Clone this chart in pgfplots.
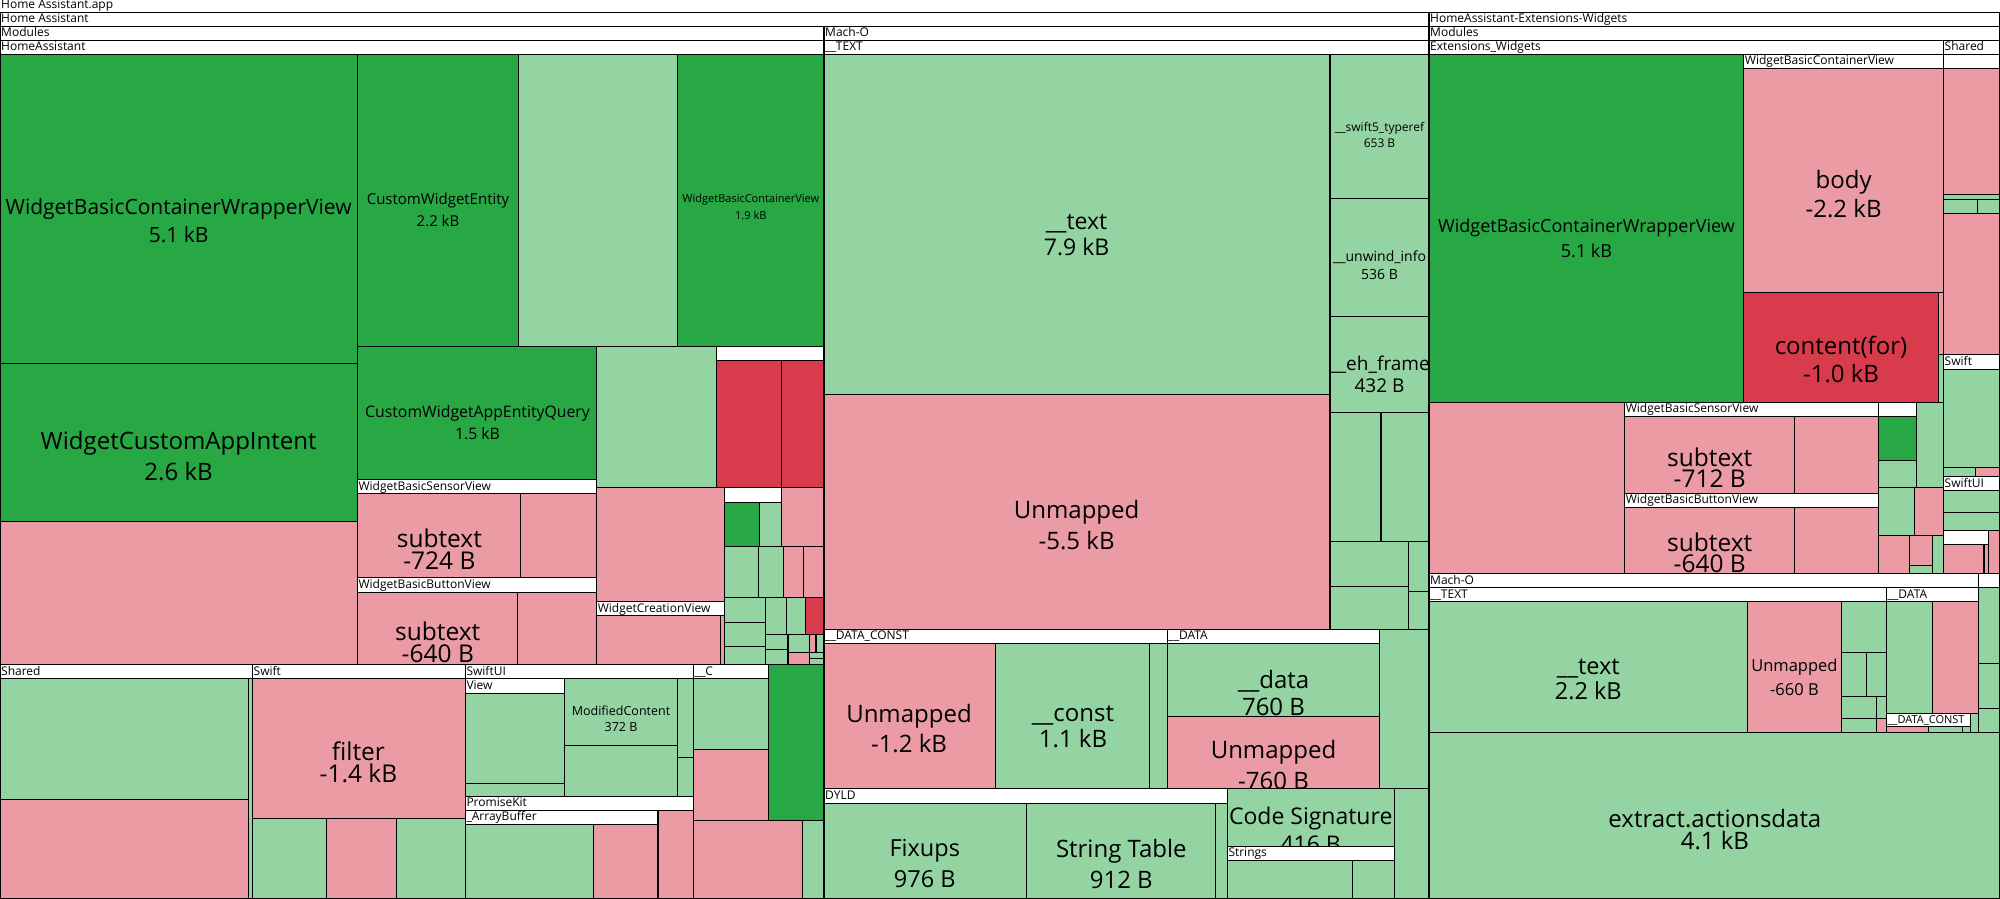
\documentclass[border=0pt]{standalone}
\usepackage{fontspec}
\setmainfont{Open Sans}
\usepackage{pgfplots}
\pgfplotsset{compat=1.18}

\definecolor{dg}{RGB}{40,167,69}
\definecolor{lg}{RGB}{148,211,162}
\definecolor{pk}{RGB}{234,155,164}
\definecolor{rd}{RGB}{216,59,75}

% one tile: colour, x0, y0, x1, y1 (pixels, y down)
\newcommand{\rect}[5]{\addplot[fill=#1,draw=black,line width=1.2pt] coordinates {(#2,#3) (#4,#3) (#4,#5) (#2,#5)} --cycle;}
% group header bar
\newcommand{\hdr}[5]{\rect{white}{#1}{#2}{#3}{#4}
  \node[anchor=base west,inner sep=0pt,xshift=1pt,yshift=3.3pt,font=\fontsize{12}{12}\selectfont] at (axis cs:#1,#4) {#5};}
% tile label: x, y, size, line skip, text
\newcommand{\lab}[5]{\node[align=center,inner sep=0pt,font=\fontsize{#3}{#4}\selectfont] at (axis cs:#1,#2) {#5};}

\begin{document}
\begin{tikzpicture}
\begin{axis}[width=2000pt,height=900pt,scale only axis,
    xmin=0,xmax=2000,ymin=0,ymax=900,y dir=reverse,hide axis,clip=true]

% top headers
\node[anchor=base west,inner sep=0pt,xshift=1pt,yshift=3.3pt,font=\fontsize{12}{12}\selectfont] at (axis cs:0,13.3) {Home Assistant.app};
\hdr{0}{13.3}{1429}{27.3}{Home Assistant}
\hdr{1429}{13.3}{2000}{27.3}{HomeAssistant-Extensions-Widgets}
\hdr{0}{27.3}{824}{41.3}{Modules}
\hdr{824}{27.3}{1429}{41.3}{Mach-O}
\hdr{1429}{27.3}{2000}{41.3}{Modules}
\hdr{0}{41.3}{824}{55.3}{HomeAssistant}
\hdr{824}{41.3}{1429}{55.3}{\_\_TEXT}
\hdr{1429}{41.3}{1943.5}{55.3}{Extensions\_Widgets}
\hdr{1943.5}{41.3}{2000}{55.3}{Shared}

% ---- HomeAssistant module
\rect{dg}{0}{55.3}{357.3}{365}
\lab{178.6}{222}{21}{28}{WidgetBasicContainerWrapperView\\5.1 kB}
\rect{dg}{0}{365}{357.3}{522.3}
\lab{178.6}{457}{24}{31}{WidgetCustomAppIntent\\2.6 kB}
\rect{pk}{0}{522.3}{357.3}{666}
\rect{dg}{357.3}{55.3}{518.8}{347.3}
\lab{438}{211}{15}{22}{CustomWidgetEntity\\2.2 kB}
\rect{lg}{518.8}{55.3}{677.6}{347.3}
\rect{dg}{677.6}{55.3}{824}{347.3}
\lab{750.8}{208.5}{11}{17}{WidgetBasicContainerView\\1.9 kB}
\rect{dg}{357.3}{347.3}{596.6}{481}
\lab{477.5}{424}{15.8}{22}{CustomWidgetAppEntityQuery\\1.5 kB}
\hdr{357.3}{481}{596.6}{495}{WidgetBasicSensorView}
\rect{pk}{357.3}{495}{520.4}{579}
\lab{439.4}{550}{24.5}{22}{subtext\\-724 B}
\rect{pk}{520.4}{495}{596.6}{579}
\hdr{357.3}{579}{596.6}{593.3}{WidgetBasicButtonView}
\rect{pk}{357.3}{593.3}{517.2}{666}
\lab{437.8}{643}{24.5}{22}{subtext\\-640 B}
\rect{pk}{517.2}{593.3}{596.6}{666}

\rect{lg}{596.6}{347.3}{716.8}{489}
\hdr{716.8}{347.3}{824}{361.3}{}
\rect{rd}{716.8}{361.3}{781.3}{489}
\rect{rd}{781.3}{361.3}{824}{489}
\rect{pk}{596.6}{489}{724.2}{603}
\hdr{596.6}{603}{724.2}{617}{WidgetCreationView}
\rect{pk}{596.6}{617}{720.7}{666}
\rect{pk}{720.7}{617}{724.2}{666}
\hdr{724.2}{489}{781.3}{503.3}{}
\rect{dg}{724.2}{503.3}{759.3}{547.3}
\rect{lg}{759.3}{503.3}{781.3}{547.3}
\rect{pk}{781.3}{489}{824}{547.3}
\rect{lg}{724.2}{547.3}{758.3}{599}
\rect{lg}{758.3}{547.3}{783.3}{599}
\rect{pk}{783.3}{547.3}{803.3}{599}
\rect{pk}{803.3}{547.3}{824}{599}
\rect{lg}{724.2}{599}{765.3}{623.3}
\rect{lg}{724.2}{623.3}{765.3}{647.3}
\rect{lg}{724.2}{647.3}{765.3}{666}
\rect{lg}{765.3}{599}{786.3}{636}
\rect{lg}{786.3}{599}{805.7}{636}
\rect{rd}{805.7}{599}{824}{636}
\rect{lg}{765.3}{636}{788}{651}
\rect{lg}{765.3}{651}{788}{666}
\rect{lg}{788}{636}{809.3}{653.3}
\rect{pk}{788}{653.3}{809.3}{666}
\rect{pk}{809.3}{636}{816}{654}
\rect{lg}{816}{636}{824}{654}
\rect{lg}{809.3}{654}{824}{660}
\rect{lg}{809.3}{660}{824}{666}

% ---- bottom-left groups
\hdr{0}{666}{252.5}{680}{Shared}
\hdr{252.5}{666}{465.3}{680}{Swift}
\hdr{465.3}{666}{693.5}{680}{SwiftUI}
\hdr{693.5}{666}{768.7}{680}{\_\_C}
\rect{dg}{768.7}{666}{824}{821.3}
\rect{lg}{0}{680}{248.8}{800.3}
\rect{pk}{0}{800.3}{248.8}{900}
\rect{lg}{248.8}{680}{252.5}{900}
\rect{pk}{252.5}{680}{465.3}{819.3}
\lab{358.4}{763}{24.5}{22}{filter\\-1.4 kB}
\rect{lg}{252.5}{819.3}{326.6}{900}
\rect{pk}{326.6}{819.3}{396.5}{900}
\rect{lg}{396.5}{819.3}{465.3}{900}
\hdr{465.3}{680}{564.3}{694.3}{View}
\rect{lg}{465.3}{694.3}{564.3}{784.7}
\rect{lg}{465.3}{784.7}{564.3}{797.3}
\rect{lg}{564.3}{680}{677.6}{746.3}
\lab{621}{720}{12.5}{15.5}{ModifiedContent\\372 B}
\rect{lg}{564.3}{746.3}{677.6}{797.3}
\rect{lg}{677.6}{680}{693.5}{758.3}
\rect{lg}{677.6}{758.3}{693.5}{797.3}
\hdr{465.3}{797.3}{693.5}{811.3}{PromiseKit}
\hdr{465.3}{811.3}{658}{825.3}{\_ArrayBuffer}
\rect{lg}{465.3}{825.3}{593.5}{900}
\rect{pk}{593.5}{825.3}{658}{900}
\rect{pk}{658}{811.3}{693.5}{900}
\rect{lg}{693.5}{680}{768.7}{750.3}
\rect{pk}{693.5}{750.3}{768.7}{821.3}
\rect{pk}{693.5}{821.3}{802.3}{900}
\rect{lg}{802.3}{821.3}{824}{900}

% ---- Mach-O (app)
\rect{lg}{824}{55.3}{1330}{395.3}
\lab{1076.6}{236.3}{23}{26.7}{\_\_text\\7.9 kB}
\rect{pk}{824}{395.3}{1330}{630.3}
\lab{1076.6}{526}{24}{31}{Unmapped\\-5.5 kB}
\rect{lg}{1330}{55.3}{1429}{199.3}
\lab{1379.5}{136}{12}{16}{\_\_swift5\_typeref\\653 B}
\rect{lg}{1330}{199.3}{1429}{317.3}
\lab{1379.5}{266.5}{14}{18.5}{\_\_unwind\_info\\536 B}
\rect{lg}{1330}{317.3}{1429}{413.3}
\lab{1379.5}{375.5}{19}{22}{\_\_eh\_frame\\432 B}
\rect{lg}{1330}{413.3}{1381}{542.3}
\rect{lg}{1381}{413.3}{1429}{542.3}
\rect{lg}{1330}{542.3}{1408.3}{587.3}
\rect{lg}{1330}{587.3}{1408.3}{630.3}
\rect{lg}{1408.3}{542.3}{1429}{592.3}
\rect{lg}{1408.3}{592.3}{1429}{630.3}
\hdr{824}{630.3}{1167.2}{644.3}{\_\_DATA\_CONST}
\hdr{1167.2}{630.3}{1379.5}{644.3}{\_\_DATA}
\rect{pk}{824}{644.3}{995.2}{790}
\lab{909}{730}{24}{30}{Unmapped\\-1.2 kB}
\rect{lg}{995.2}{644.3}{1149.4}{790}
\lab{1073}{728}{24}{26}{\_\_const\\1.1 kB}
\rect{lg}{1149.4}{644.3}{1167.2}{790}
\rect{lg}{1167.2}{644.3}{1379.5}{717.3}
\lab{1273.5}{694}{24}{27}{\_\_data\\760 B}
\rect{pk}{1167.2}{717.3}{1379.5}{790}
\lab{1273.5}{766.5}{24}{31}{Unmapped\\-760 B}
\rect{lg}{1379.5}{630.3}{1429}{790}
\hdr{824}{790}{1227.3}{804.3}{DYLD}
\rect{lg}{824}{804.3}{1026.4}{900}
\lab{924.8}{865}{23.5}{31}{Fixups\\976 B}
\rect{lg}{1026.4}{804.3}{1215.8}{900}
\lab{1121.3}{865}{24}{31}{String Table\\912 B}
\rect{lg}{1215.8}{804.3}{1227.3}{900}
\rect{lg}{1227.3}{790}{1394.2}{847.3}
\lab{1310.7}{831}{23}{28}{Code Signature\\416 B}
\hdr{1227.3}{847.3}{1394.2}{861.3}{Strings}
\rect{lg}{1227.3}{861.3}{1352.2}{900}
\rect{lg}{1352.2}{861.3}{1394.2}{900}
\rect{lg}{1394.2}{790}{1429}{900}

% ---- Extensions_Widgets
\rect{dg}{1429}{55.3}{1743.7}{403.3}
\lab{1586.5}{239}{18}{25}{WidgetBasicContainerWrapperView\\5.1 kB}
\hdr{1743.7}{55.3}{1943.5}{69.3}{WidgetBasicContainerView}
\rect{pk}{1743.7}{69.3}{1943.5}{293.3}
\lab{1843.6}{195}{24}{29}{body\\-2.2 kB}
\rect{rd}{1743.7}{293.3}{1938.3}{403.3}
\lab{1841}{361}{24}{28}{content(for)\\-1.0 kB}
\rect{pk}{1938.3}{293.3}{1943.5}{356}
\rect{lg}{1938.3}{356}{1943.5}{403.3}

\hdr{1943.5}{55.3}{2000}{69.3}{}
\rect{pk}{1943.5}{69.3}{2000}{196}
\rect{lg}{1943.5}{196}{2000}{200.7}
\rect{lg}{1943.5}{200.7}{1977.3}{214.3}
\rect{lg}{1977.3}{200.7}{2000}{214.3}
\rect{pk}{1943.5}{214.3}{2000}{356}
\hdr{1943.5}{356}{2000}{370.4}{Swift}
\rect{lg}{1943.5}{370.4}{2000}{468.6}
\rect{lg}{1943.5}{468.6}{1975.7}{477.7}
\rect{pk}{1975.7}{468.6}{2000}{477.7}
\hdr{1943.5}{477.7}{2000}{491.7}{SwiftUI}
\rect{lg}{1943.5}{491.7}{2000}{513.3}
\rect{lg}{1943.5}{513.3}{2000}{531.7}
\hdr{1943.5}{531.7}{1988.5}{545.7}{}
\rect{pk}{1988.5}{531.7}{2000}{575}
\rect{pk}{1943.5}{545.7}{1984}{575}
\rect{pk}{1984}{545.7}{1988.5}{575}

\rect{pk}{1429}{403.3}{1624.6}{575}
\hdr{1624.6}{403.3}{1878.4}{417.3}{WidgetBasicSensorView}
\rect{pk}{1624.6}{417.3}{1794.8}{494.3}
\lab{1709.7}{469}{24.5}{21}{subtext\\-712 B}
\rect{pk}{1794.8}{417.3}{1878.4}{494.3}
\hdr{1624.6}{494.3}{1878.4}{508.3}{WidgetBasicButtonView}
\rect{pk}{1624.6}{508.3}{1794.8}{575}
\lab{1709.7}{554}{24.5}{21}{subtext\\-640 B}
\rect{pk}{1794.8}{508.3}{1878.4}{575}
\hdr{1878.4}{403.3}{1916.1}{417.3}{}
\rect{dg}{1878.4}{417.3}{1916.1}{461.3}
\rect{lg}{1878.4}{461.3}{1916.1}{488.3}
\rect{lg}{1916.1}{403.3}{1943.5}{488.3}
\rect{lg}{1878.4}{488.3}{1914.3}{536.3}
\rect{pk}{1914.3}{488.3}{1943.5}{536.3}
\rect{pk}{1878.4}{536.3}{1909.5}{575}
\rect{pk}{1909.5}{536.3}{1932.4}{567}
\rect{lg}{1909.5}{567}{1932.4}{575}
\rect{lg}{1932.4}{536.3}{1943.5}{575}

% ---- Mach-O (extension)
\hdr{1429}{575}{1978.6}{589}{Mach-O}
\hdr{1978.6}{575}{2000}{589}{}
\hdr{1429}{589}{1886.5}{603}{\_\_TEXT}
\hdr{1886.5}{589}{1978.6}{603}{\_\_DATA}
\rect{lg}{1429}{603}{1747.4}{734}
\lab{1588.3}{680.7}{23.5}{25}{\_\_text\\2.2 kB}
\rect{pk}{1747.4}{603}{1841.4}{734}
\lab{1794.4}{678}{16.5}{24}{Unmapped\\-660 B}
\rect{lg}{1841.4}{603}{1886.5}{653.3}
\rect{lg}{1841.4}{653.3}{1866.5}{698}
\rect{lg}{1866.5}{653.3}{1886.5}{698}
\rect{lg}{1841.4}{698}{1876.6}{719.3}
\rect{lg}{1841.4}{719.3}{1876.6}{734}
\rect{lg}{1876.6}{698}{1886.5}{719.3}
\rect{pk}{1876.6}{719.3}{1886.5}{734}
\rect{lg}{1886.5}{603}{1932.7}{714.3}
\rect{pk}{1932.7}{603}{1978.6}{714.3}
\rect{white}{1886.5}{714.3}{1970.3}{727.7}
\node[anchor=base west,inner sep=0pt,xshift=1pt,yshift=3pt,font=\fontsize{11}{11}\selectfont] at (axis cs:1886.5,727.7) {\_\_DATA\_CONST};
\rect{lg}{1970.3}{714.3}{1978.6}{734}
\rect{pk}{1886.5}{727.7}{1928.3}{734}
\rect{lg}{1928.3}{727.7}{1962.3}{734}
\rect{lg}{1962.3}{727.7}{1970.3}{734}
\rect{lg}{1978.6}{589}{2000}{664.3}
\rect{lg}{1978.6}{664.3}{2000}{709.3}
\rect{lg}{1978.6}{709.3}{2000}{734}
\rect{lg}{1429}{734}{2000}{900}
\lab{1714.9}{830.5}{24}{22}{extract.actionsdata\\4.1 kB}

\end{axis}
\end{tikzpicture}
\end{document}
